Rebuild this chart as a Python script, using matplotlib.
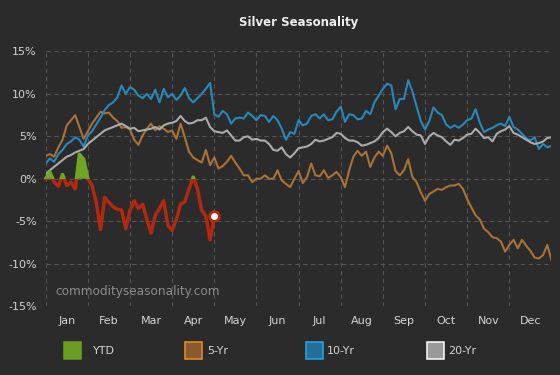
import numpy as np
import matplotlib.pyplot as plt
from matplotlib.patches import Rectangle

# x positions are tenths of a month from Jan 1
months = ["Jan", "Feb", "Mar", "Apr", "May", "Jun",
          "Jul", "Aug", "Sep", "Oct", "Nov", "Dec"]
step = 0.1

ytd = [0.0, 0.8, -0.4, -0.9, 0.5, -0.8, -0.4, -1.2, 2.9, 2.3,
       0.0, -0.8, -2.8, -6.0, -2.2, -2.8, -3.3, -3.6, -3.7, -5.9,
       -3.7, -2.6, -3.5, -3.0, -4.8, -6.4, -4.3, -3.5, -2.6, -5.5,
       -6.1, -4.8, -3.0, -2.7, -1.2, 0.2, -1.2, -3.7, -4.4, -7.2,
       -4.4]

five_yr = [2.7, 2.9, 2.6, 3.7, 4.6, 6.3, 6.9, 7.5, 6.1, 4.7,
           5.6, 6.5, 7.2, 7.9, 7.7, 7.8, 7.2, 6.8, 6.0, 6.1,
           5.8, 4.6, 4.0, 5.1, 5.9, 6.5, 5.7, 6.2, 5.9, 5.5,
           5.7, 4.7, 6.5, 4.9, 3.2, 2.5, 2.2, 1.9, 3.4, 1.6,
           2.5, 1.2, 1.5, 2.0, 2.7, 1.9, 1.2, 0.4, 0.4, -0.4,
           0.0, 0.0, 0.4, 0.0, 0.0, 1.0, -0.2, -0.6, -1.0, 0.0,
           0.9, -0.5, 0.2, 1.8, 0.4, 0.3, 1.0, 0.1, 0.4, 0.8,
           0.2, -1.0, 1.0, 2.6, 3.3, 2.7, 3.2, 1.4, 2.5, 3.2,
           2.7, 3.9, 3.0, 0.9, 0.4, 1.0, 2.3, 0.2, -0.4, -1.6,
           -2.6, -1.8, -1.5, -1.2, -1.3, -1.0, -0.8, -0.8, -0.6, -1.2,
           -2.4, -3.4, -4.3, -4.8, -5.9, -6.3, -6.9, -7.0, -7.4, -8.6,
           -7.8, -7.2, -8.2, -7.2, -7.9, -8.5, -9.3, -9.4, -9.0, -7.8,
           -9.6]

ten_yr = [1.8, 2.4, 2.0, 2.9, 3.4, 4.1, 4.4, 4.9, 4.6, 3.8,
          5.1, 5.6, 6.4, 7.2, 8.1, 8.7, 9.0, 9.6, 11.0, 10.0,
          10.8, 10.5, 9.8, 9.5, 10.0, 9.4, 10.5, 9.0, 10.6, 9.6,
          10.0, 9.3, 9.8, 10.7, 9.5, 9.0, 9.5, 10.0, 10.6, 11.3,
          7.6, 7.3, 8.0, 7.6, 6.5, 7.1, 7.2, 7.1, 7.8, 7.4,
          6.9, 7.5, 7.4, 6.7, 7.4, 6.9, 5.9, 4.6, 5.5, 5.3,
          6.9, 6.3, 6.5, 7.4, 7.6, 7.1, 7.6, 6.9, 7.0, 7.9,
          8.5, 6.7, 7.6, 7.5, 7.0, 7.1, 8.0, 7.6, 9.0, 9.8,
          10.6, 11.2, 11.0, 8.2, 9.4, 9.4, 11.6, 10.3, 8.5, 6.8,
          5.8, 6.8, 8.4, 7.8, 7.5, 6.4, 6.0, 6.3, 6.0, 6.4,
          6.9, 7.1, 8.2, 6.6, 5.5, 5.8, 6.0, 6.3, 6.5, 6.2,
          7.3, 6.1, 5.8, 5.3, 4.8, 4.5, 4.9, 3.5, 4.1, 3.7,
          3.9]

twenty_yr = [0.5, 1.0, 1.4, 1.8, 2.2, 2.6, 2.8, 3.1, 3.3, 3.5,
             4.1, 4.5, 4.9, 5.3, 5.7, 5.9, 6.1, 6.3, 6.5, 6.2,
             5.9, 6.0, 5.6, 5.7, 5.8, 5.9, 6.1, 5.8, 6.3, 6.5,
             6.6, 6.8, 7.4, 6.8, 6.5, 6.6, 6.9, 6.9, 7.2, 6.1,
             5.6, 5.5, 5.4, 5.7, 5.1, 4.5, 4.5, 4.9, 5.0, 4.6,
             4.7, 4.5, 4.5, 4.1, 3.4, 3.3, 3.7, 2.9, 2.5, 3.0,
             3.6, 3.7, 3.8, 4.1, 4.6, 4.4, 4.5, 4.7, 4.9, 5.4,
             5.3, 4.8, 4.5, 4.5, 4.3, 3.9, 4.0, 4.2, 4.4, 4.8,
             5.5, 5.9, 5.5, 5.0, 5.4, 5.6, 6.1, 5.6, 5.2, 5.1,
             4.1, 5.0, 5.4, 5.1, 4.9, 4.4, 4.0, 4.6, 4.5, 4.8,
             5.2, 5.3, 5.9, 5.4, 4.8, 4.9, 4.4, 5.3, 5.6, 5.8,
             6.2, 5.4, 5.2, 4.9, 4.6, 4.3, 4.1, 4.2, 4.4, 4.8,
             4.9]

BG = "#2b2b2b"
TXT = "#d4d4d4"
ORANGE = "#a87238"
BLUE = "#2a88b8"
GRAY = "#ababab"
RED = "#b3290f"
GREEN = "#6fa626"

fig = plt.figure(figsize=(5.6, 3.75), dpi=100, facecolor=BG)
ax = fig.add_axes([0.0816, 0.184, 0.9032, 0.6787], facecolor=BG)

ax.plot(np.arange(len(five_yr)) * step, five_yr, color=ORANGE, lw=1.5)
ax.plot(np.arange(len(ten_yr)) * step, ten_yr, color=BLUE, lw=1.5)
ax.plot(np.arange(len(twenty_yr)) * step, twenty_yr, color=GRAY, lw=1.5)

# YTD: green area above zero, red line below
xy = np.arange(len(ytd)) * step
yv = np.array(ytd)
ax.fill_between(xy, 0, yv, where=yv > 0, interpolate=True, color=GREEN, lw=0, zorder=3)
red, = ax.plot(xy, yv, color=RED, lw=2.5, zorder=4)
red.set_clip_path(Rectangle((-1, -20), 14, 20, transform=ax.transData))
green, = ax.plot(xy, yv, color=GREEN, lw=2.5, zorder=4)
green.set_clip_path(Rectangle((-1, 0), 14, 20, transform=ax.transData))
ax.plot(xy[-1], yv[-1], "o", ms=7, mfc="white", mec=RED, mew=2, zorder=5)

ax.set_xlim(0, 12)
ax.set_ylim(-15, 15)
ax.set_xticks(np.arange(12) + 0.5, months)
ax.set_xticks(np.arange(13), minor=True)
yt = np.arange(-15, 16, 5)
ax.set_yticks(yt, [f"{v}%" for v in yt])
ax.tick_params(which="both", length=0, colors=TXT, labelsize=8)
ax.tick_params(axis="x", pad=7.5)
ax.tick_params(axis="y", pad=6.3)
grid_kw = dict(color="#535353", lw=0.8, ls=(0, (4, 3)))
ax.grid(which="minor", axis="x", **grid_kw)
ax.grid(which="major", axis="y", **grid_kw)
ax.set_axisbelow(True)
for s in ax.spines.values():
    s.set_visible(False)

fig.text(298.5 / 560, 1 - 22.5 / 375, "Silver Seasonality", ha="center", va="center",
         fontsize=8.5, fontweight="bold", color="#eeeeee")
fig.text(55 / 560, 1 - 292 / 375, "commodityseasonality.com", ha="left", va="center",
         fontsize=8.7, color="#8c8c8c")

# legend drawn by hand to keep the fixed spacing
legend_items = [("YTD", "#6a9e22", "#6a9e22", 64, 93),
                ("5-Yr", "#8a5a2e", "#e8902a", 185, 207),
                ("10-Yr", "#22709a", "#22a8e8", 306, 327),
                ("20-Yr", "#999999", "#ffffff", 427, 448)]
for label, face, edge, px, tx in legend_items:
    fig.patches.append(Rectangle((px / 560, 1 - 359 / 375), 17 / 560, 17 / 375,
                                 transform=fig.transFigure, facecolor=face,
                                 edgecolor=edge, lw=1.1))
    fig.text(tx / 560, 1 - 350.7 / 375, label, ha="left", va="center",
             fontsize=8, color=TXT)

fig.savefig("out.png", dpi=100, facecolor=BG)
